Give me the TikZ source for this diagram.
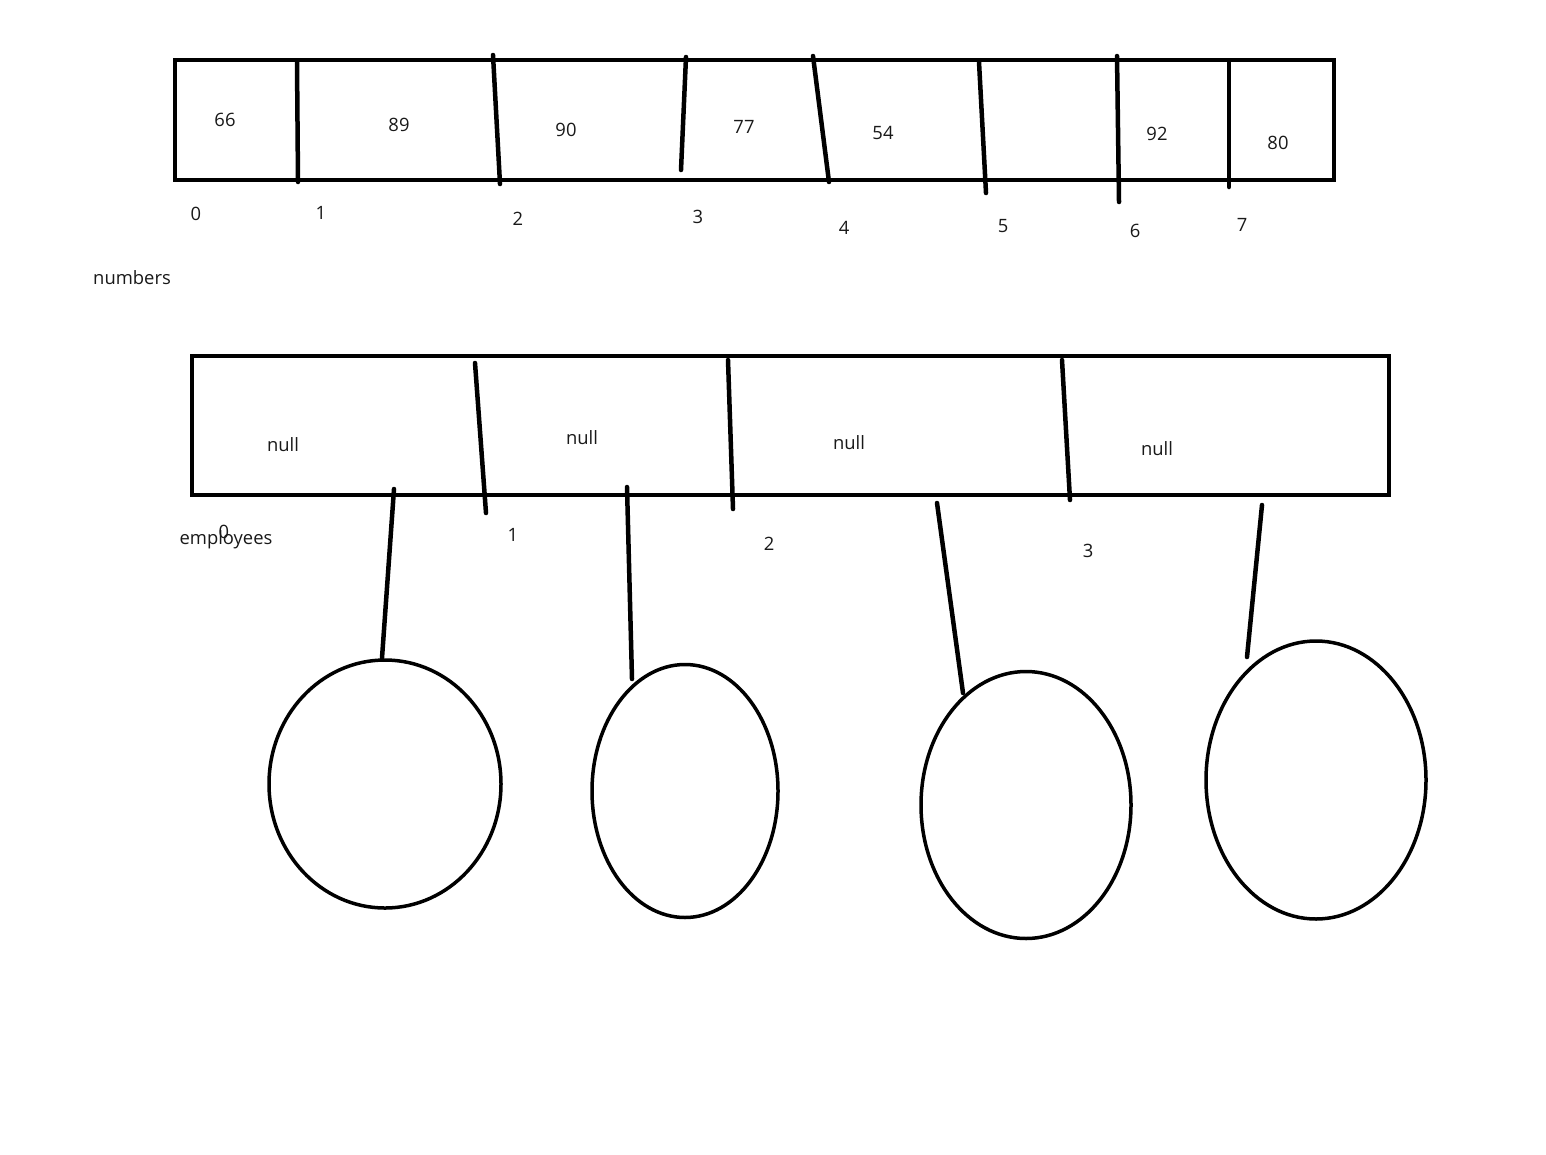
\documentclass[tikz,border=0pt]{standalone}
\usepackage{fontspec}
\setmainfont{Open Sans}
\usetikzlibrary{shapes.geometric}
\begin{document}
\begin{tikzpicture}[x=1pt,y=-1pt,
  ink/.style={line width=4.5pt,line cap=round,line join=miter},
  lbl/.style={font=\fontsize{18.4}{21}\selectfont,inner sep=0pt,text=black!90},
  blob/.style={draw,ellipse,line width=3.5pt,inner sep=0pt}]
\useasboundingbox[fill=white] (0,0) rectangle (1546,1154);
% numbers array
\node[draw,ink,rectangle,minimum width=1159pt,minimum height=120pt,inner sep=0pt] (numarr) at (754.5,120) {};
\foreach \n/\xa/\ya/\xb/\yb in {1/297/62/298/182,2/493/55/500/184,3/686/57/681/170,4/813/56/829/182,5/979/62/986/193,6/1117/56/1119/202,7/1229/62/1229/187}{
  \coordinate (nt\n) at (\xa,\ya);
  \coordinate (nb\n) at (\xb,\yb);
  \draw[ink] (nt\n) -- (nb\n);
}
\foreach \n/\v/\x/\y in {0/66/225/120,1/89/399/125,2/90/566/130,3/77/744/127,4/54/883/133,6/92/1157/134,7/80/1278/143}{
  \node[lbl] (nv\n) at (\x,\y) {\v};
}
\foreach \n/\x/\y in {0/196/214,1/321/213,2/518/219,3/698/217,4/844/228,5/1003/226,6/1135/231,7/1242/225}{
  \node[lbl] (ni\n) at (\x,\y) {\n};
}
\node[lbl] (numlbl) at (132,278) {numbers};
% employees array
\node[draw,ink,rectangle,minimum width=1197pt,minimum height=139pt,inner sep=0pt] (emparr) at (790.5,425.5) {};
\foreach \n/\xa/\ya/\xb/\yb in {1/475/363/486/513,2/728/360/733/509,3/1062/360/1070/500}{
  \coordinate (et\n) at (\xa,\ya);
  \coordinate (eb\n) at (\xb,\yb);
  \draw[ink] (et\n) -- (eb\n);
}
\foreach \n/\x/\y in {0/283/445,1/582/438,2/849/443,3/1157/449}{
  \node[lbl] (ev\n) at (\x,\y) {null};
}
\foreach \n/\x/\y in {0/224/532,1/513/535,2/769/544,3/1088/551}{
  \node[lbl] (ei\n) at (\x,\y) {\n};
}
\node[lbl] (emplbl) at (226,540) {employees};
% objects
\node[blob,minimum width=232pt,minimum height=248pt] (o1) at (385,784) {};
\node[blob,minimum width=186pt,minimum height=253pt] (o2) at (685,791) {};
\node[blob,minimum width=210pt,minimum height=267pt] (o3) at (1026,805) {};
\node[blob,minimum width=220pt,minimum height=278pt] (o4) at (1316,780) {};
\foreach \n/\xa/\ya/\xb/\yb in {1/394/489/382/658,2/627/487/632/679,3/937/503/963/693,4/1262/505/1247/657}{
  \coordinate (ps\n) at (\xa,\ya);
  \coordinate (pe\n) at (\xb,\yb);
  \draw[ink] (ps\n) -- (pe\n);
}
\end{tikzpicture}
\end{document}
